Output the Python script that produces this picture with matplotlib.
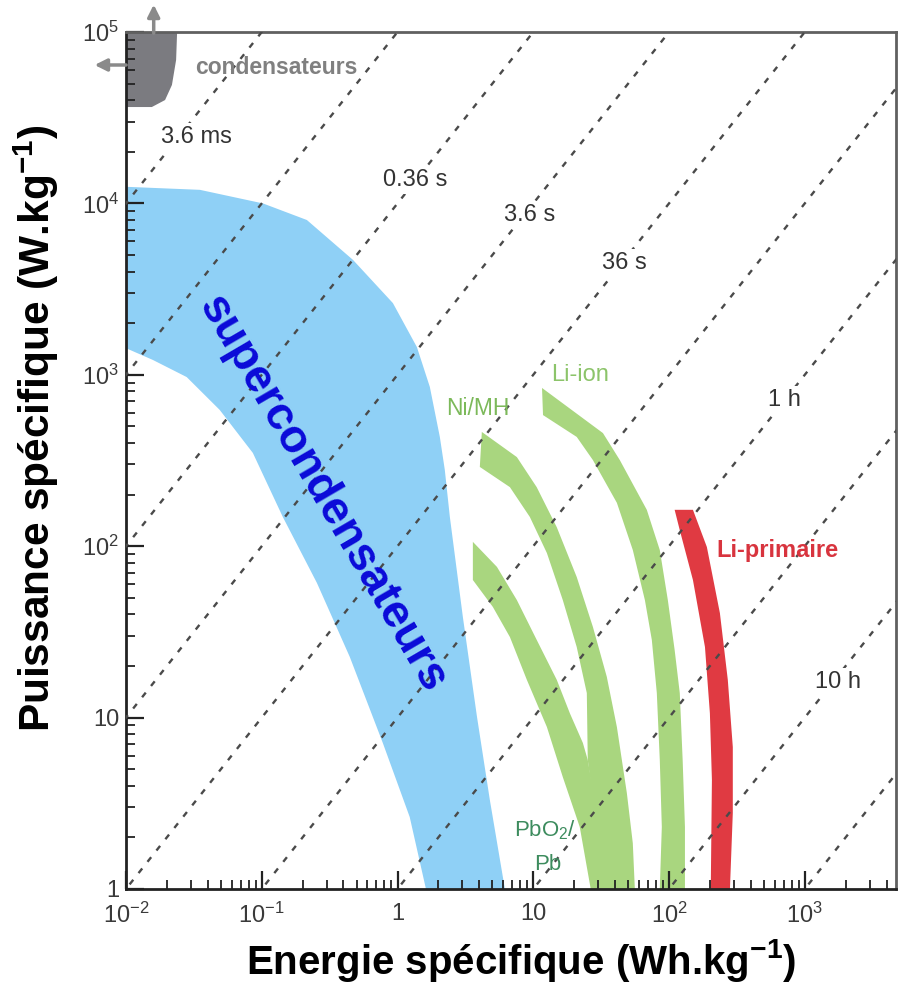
import numpy as np
import matplotlib
matplotlib.use("Agg")
import matplotlib.pyplot as plt
from matplotlib.patches import Polygon
from matplotlib.ticker import FixedLocator, FixedFormatter, LogLocator, NullFormatter

plt.rcParams['font.family'] = ['Liberation Sans', 'DejaVu Sans']
plt.rcParams['mathtext.fontset'] = 'custom'
plt.rcParams['mathtext.rm'] = 'Liberation Sans'
plt.rcParams['mathtext.it'] = 'Liberation Sans:italic'
plt.rcParams['mathtext.bf'] = 'Liberation Sans:bold'

# outlines of each technology domain (energy Wh/kg, power W/kg)
cap_E = [0.01, 0.0238, 0.0234, 0.0218, 0.0194, 0.0155, 0.01]
cap_P = [1e5, 1e5, 68700, 49100, 40100, 36500, 36500]

supercap_E = [0.01, 0.035, 0.102, 0.215, 0.47, 0.925, 1.39, 1.73, 2.05, 2.23, 2.43,
              3.03, 3.85, 4.79, 6.18, 1.62, 1.23, 0.78, 0.445, 0.255, 0.143, 0.086,
              0.049, 0.028, 0.0158, 0.01]
supercap_P = [12500, 12000, 10000, 8000, 4680, 2620, 1450, 850, 434, 279, 148,
              38.6, 10.1, 3.3, 1, 1, 2.63, 7.1, 22.6, 61, 148, 350,
              624, 970, 1220, 1430]

pb_E = [3.59, 5.40, 7.57, 10.6, 14.9, 18.6, 23.2, 25.2, 36.6, 26.5, 22.0, 16.5,
        12.6, 8.97, 6.73, 5.04, 3.59]
pb_P = [106, 75.7, 48.5, 28.4, 16.6, 10.6, 7.11, 5.66, 1, 1, 2.30, 4.50,
        8.81, 16.6, 29.5, 44.2, 63.5]

nimh_E = [4.18, 7.57, 10.6, 14.9, 20.9, 27.5, 34.8, 41.3, 48.9, 54.1, 56.0, 33.7,
          25.2, 24.8, 20.9, 16.5, 12.6, 9.44, 6.73, 4.04]
nimh_P = [464, 331, 221, 129, 66.1, 33.8, 17.3, 8.81, 3.63, 1.85, 1, 1,
          5.66, 13.9, 25.8, 48.5, 91.2, 148, 221, 290]

liion_E = [11.6, 32.6, 43.4, 68.6, 85.5, 98, 110, 120, 126, 131, 131, 85.5,
           88.5, 85.5, 81.3, 74.7, 66.4, 54.1, 41.3, 27.5, 20.9, 11.8]
liion_P = [838, 457, 318, 163, 95, 48.5, 24.8, 13.9, 5.66, 2.30, 1, 1,
           2.30, 5.66, 13.9, 28.4, 48.5, 95, 179, 318, 434, 582]

liprim_E = [110, 150, 190, 237, 271, 295, 295, 281, 203, 207, 200, 184, 150, 120]
liprim_P = [163, 163, 98.9, 40.7, 16.6, 6.73, 2.78, 1, 1, 4.32, 10.6, 25.8, 63.5, 124]

# constant discharge time lines, in hours (E / P)
t_hours = [1e-6, 1e-5, 1e-4, 1e-3, 1e-2, 1e-1, 1, 10, 100, 1000]
time_labels = ['3.6 ms', '0.36 s', '3.6 s', '36 s', '1 h', '10 h']
time_label_E = [0.0333, 1.34, 9.44, 47.2, 713, 1750]
time_label_P = [24400, 13700, 8560, 4490, 713, 16.1]

xticks = [1e-2, 1e-1, 1, 10, 100, 1000]
xticklabels = ['$10^{-2}$', '$10^{-1}$', '1', '10', '$10^2$', '$10^3$']
yticks = [1, 10, 100, 1000, 1e4, 1e5]
yticklabels = ['1', '10', '$10^2$', '$10^3$', '$10^4$', '$10^5$']

fig = plt.figure(figsize=(8.98, 9.85), dpi=100)
ax = fig.add_axes([0.1403, 0.0975, 0.8575, 0.87])
ax.set_xscale('log')
ax.set_yscale('log')
ax.set_xlim(1e-2, 4.7e3)
ax.set_ylim(1, 1e5)

def region(E, P, color, z=1):
    ax.add_patch(Polygon(np.column_stack([E, P]), closed=True, facecolor=color,
                         edgecolor='none', zorder=z))

region(cap_E, cap_P, '#7b7b80')
region(supercap_E, supercap_P, '#8fd0f6')
region(pb_E, pb_P, '#a9d67f')
region(nimh_E, nimh_P, '#a9d67f')
region(liion_E, liion_P, '#a9d67f')
region(liprim_E, liprim_P, '#e03a42')

# arrows on the capacitor corner
ax.annotate('', xy=(0.016, 1.5e5), xytext=(0.016, 9.5e4), annotation_clip=False,
            arrowprops=dict(arrowstyle='-|>', color='#8a8a8a', lw=2.5, mutation_scale=18))
ax.annotate('', xy=(0.0056, 64200), xytext=(0.0105, 64200), annotation_clip=False,
            arrowprops=dict(arrowstyle='-|>', color='#8a8a8a', lw=2.5, mutation_scale=18))

E_line = np.array([1e-3, 1e4])
for t in t_hours:
    ax.plot(E_line, E_line / t, color='#4a4a4a', lw=1.7,
            linestyle=(0, (2.5, 3.6)), zorder=3)

for lab, e, p in zip(time_labels, time_label_E, time_label_P):
    ax.text(e, p, lab, fontsize=17, color='#333333', ha='center', va='center',
            zorder=4, bbox=dict(facecolor='white', edgecolor='none', pad=2))

ax.text(0.129, 61700, 'condensateurs', fontsize=16.5, fontweight='bold',
        color='#808080', ha='center', va='center', zorder=5)
ax.text(0.277, 202, 'supercondensateurs', fontsize=33, fontweight='bold',
        color='#0a0ad8', ha='center', va='center', rotation=-59.7,
        rotation_mode='anchor', zorder=5)
ax.text(3.91, 640, 'Ni/MH', fontsize=16.5, color='#7cb95a', ha='center', va='center', zorder=5)
ax.text(22.0, 998, 'Li-ion', fontsize=17, color='#8cc46a', ha='center', va='center', zorder=5)
ax.text(12.3, 2.21, 'PbO$_2$/', fontsize=16, color='#3d8c5e', ha='center', va='center', zorder=5)
ax.text(12.8, 1.38, 'Pb', fontsize=16, color='#3d8c5e', ha='center', va='center', zorder=5)
ax.text(632, 95, 'Li-primaire', fontsize=17, fontweight='bold', color='#d8343e',
        ha='center', va='center', zorder=5)

# axes styling
ax.xaxis.set_major_locator(FixedLocator(xticks))
ax.xaxis.set_major_formatter(FixedFormatter(xticklabels))
ax.yaxis.set_major_locator(FixedLocator(yticks))
ax.yaxis.set_major_formatter(FixedFormatter(yticklabels))
ax.xaxis.set_minor_locator(LogLocator(base=10, subs=np.arange(2, 10), numticks=20))
ax.yaxis.set_minor_locator(LogLocator(base=10, subs=np.arange(2, 10), numticks=20))
ax.xaxis.set_minor_formatter(NullFormatter())
ax.yaxis.set_minor_formatter(NullFormatter())
ax.tick_params(which='major', direction='in', length=13, width=1.6, color='#222222',
               labelsize=17, labelcolor='#3a3a3a')
ax.tick_params(which='minor', direction='in', length=6.5, width=1.3, color='#222222')
ax.tick_params(axis='x', which='major', pad=10)
ax.tick_params(axis='y', which='major', pad=5)
for side in ['left', 'bottom']:
    ax.spines[side].set_linewidth(2)
    ax.spines[side].set_color('#222222')
for side in ['top', 'right']:
    ax.spines[side].set_linewidth(2)
    ax.spines[side].set_color('#606060')

fig.text(521 / 898, 1 - 960 / 985, r'Energie spécifique (Wh.kg$^{\mathbf{-1}}$)', fontsize=29,
         fontweight='bold', ha='center', va='center')
fig.text(36 / 898, 1 - 428 / 985, r'Puissance spécifique (W.kg$^{\mathbf{-1}}$)', fontsize=30.5,
         fontweight='bold', ha='center', va='center', rotation=90)

fig.savefig('out.png', dpi=100)
